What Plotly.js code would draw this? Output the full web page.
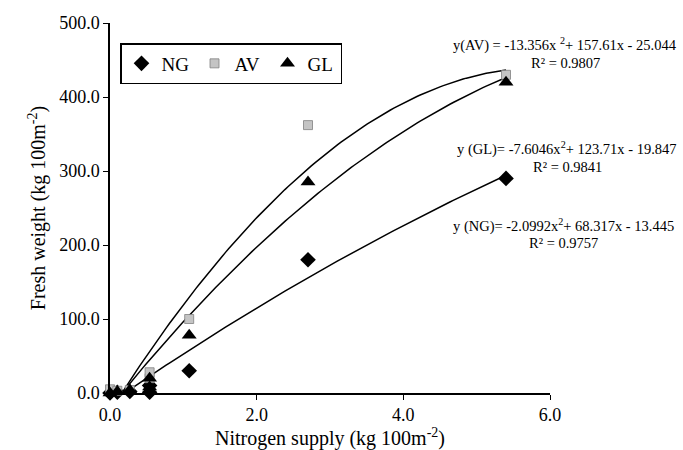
<!DOCTYPE html>
<html>
<head>
<meta charset="utf-8">
<script src="https://cdn.plot.ly/plotly-3.0.1.min.js"></script>
<style>html,body{margin:0;padding:0;background:#fff;}#chart{width:683px;height:450px;}</style>
</head>
<body>
<div id="chart"></div>
<script>
// Data
var nitrogen = [0, 0.1, 0.27, 0.54, 0.54, 1.08, 2.7, 5.4];
var freshNG  = [0, 1, 2, 1, 10, 30, 180, 290];
var freshAV  = [5, 3, 4, 20, 28, 100, 362, 430];
var freshGL  = [0, 2, 4, 8, 20, 78, 285, 420];

// Printed trendline coefficients [a, b, c] for y = a x^2 + b x + c
var coefNG = [-2.0992, 68.317, -13.445];
var coefAV = [-13.356, 157.61, -25.044];
var coefGL = [-7.6046, 123.71, -19.847];

var eqAV = 'y(AV) = -13.356x <sup>2</sup>+ 157.61x - 25.044';
var r2AV = 'R² = 0.9807';
var eqGL = 'y (GL)= -7.6046x<sup>2</sup>+ 123.71x - 19.847';
var r2GL = 'R² = 0.9841';
var eqNG = 'y (NG)= -2.0992x<sup>2</sup>+ 68.317x - 13.445';
var r2NG = 'R² = 0.9757';

var xTicks = [0, 2, 4, 6];
var yTicks = [0, 100, 200, 300, 400, 500];

function curve(coef, xmin, xmax) {
  var xs = [], ys = [];
  var n = 120;
  for (var i = 0; i <= n; i++) {
    var x = xmin + (xmax - xmin) * i / n;
    xs.push(x);
    ys.push(coef[0] * x * x + coef[1] * x + coef[2]);
  }
  return {x: xs, y: ys};
}

var xmax = Math.max.apply(null, nitrogen);
var cNG = curve(coefNG, 0, xmax), cAV = curve(coefAV, 0, xmax), cGL = curve(coefGL, 0, xmax);

var serif = 'Liberation Serif, Times New Roman, serif';
var lineStyle = {color: '#000', width: 1.5};

var traces = [
  {x: cAV.x, y: cAV.y, mode: 'lines', line: lineStyle, showlegend: false, hoverinfo: 'skip'},
  {x: cGL.x, y: cGL.y, mode: 'lines', line: lineStyle, showlegend: false, hoverinfo: 'skip'},
  {x: cNG.x, y: cNG.y, mode: 'lines', line: lineStyle, showlegend: false, hoverinfo: 'skip'},
  {x: nitrogen, y: freshNG, name: 'NG', mode: 'markers', cliponaxis: false,
   marker: {symbol: 'diamond', size: 12, color: '#000'}},
  {x: nitrogen, y: freshAV, name: 'AV', mode: 'markers', cliponaxis: false,
   marker: {symbol: 'square', size: 9, color: '#c4c4c4', line: {color: '#808080', width: 0.8}}},
  {x: nitrogen, y: freshGL, name: 'GL', mode: 'markers', cliponaxis: false,
   marker: {symbol: 'triangle-up', size: 13, color: '#000'}}
];

var annFont = {family: serif, size: 14.5, color: '#000'};
function ann(text, x, y) {
  return {text: text, xref: 'paper', yref: 'paper', x: x, y: y, xanchor: 'center', yanchor: 'middle',
          showarrow: false, font: annFont};
}
// paper coords: plot area x 110..550, y 23..393 (px)
function px(x) { return (x - 110) / 440; }
function py(y) { return (393 - y) / 370; }

var layout = {
  width: 683, height: 450,
  margin: {l: 110, r: 133, t: 23, b: 57},
  paper_bgcolor: '#fff', plot_bgcolor: '#fff',
  font: {family: serif, color: '#000', size: 18},
  showlegend: true,
  legend: {
    orientation: 'h', x: px(120), y: py(43), xanchor: 'left', yanchor: 'top',
    bordercolor: '#000', borderwidth: 1.5, bgcolor: '#fff',
    font: {family: serif, size: 19, color: '#000'},
    entrywidth: 28, entrywidthmode: 'pixels', itemwidth: 30, tracegroupgap: 0
  },
  xaxis: {
    range: [0, 6], tickvals: xTicks, tickformat: '.1f',
    showgrid: false, zeroline: false, showline: true, linecolor: '#000', linewidth: 1.5,
    ticks: 'outside', ticklen: 5, tickwidth: 1, tickcolor: '#000',
    tickfont: {family: serif, size: 18, color: '#000'},
    title: {text: 'Nitrogen supply (kg 100m<sup>-2</sup>)', font: {family: serif, size: 20, color: '#000'}, standoff: 4}
  },
  yaxis: {
    range: [0, 500], tickvals: yTicks, tickformat: '.1f',
    showgrid: false, zeroline: false, showline: true, linecolor: '#000', linewidth: 1.5,
    ticks: 'outside', ticklen: 5, tickwidth: 1, tickcolor: '#000',
    tickfont: {family: serif, size: 18, color: '#000'},
    title: {text: 'Fresh weight (kg 100m<sup>-2</sup>)', font: {family: serif, size: 20, color: '#000'}, standoff: 8}
  },
  annotations: [
    ann(eqAV, px(565), py(45)), ann(r2AV, px(565), py(63)),
    ann(eqGL, px(567), py(148)), ann(r2GL, px(567), py(167)),
    ann(eqNG, px(563), py(225)), ann(r2NG, px(563), py(243))
  ]
};

Plotly.newPlot('chart', traces, layout, {displayModeBar: false, responsive: false});
</script>
</body>
</html>
